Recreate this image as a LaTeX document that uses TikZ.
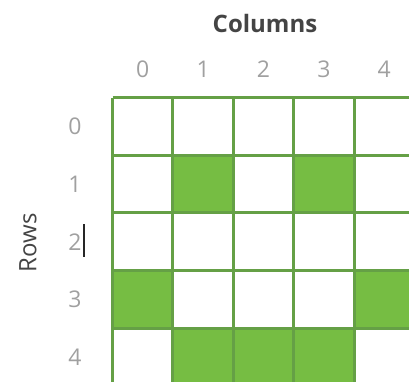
\documentclass[tikz,border=0pt]{standalone}
\usepackage{fontspec}
\setmainfont{Open Sans}
\definecolor{cellfill}{RGB}{118,189,67}
\definecolor{gridline}{RGB}{101,160,70}
\definecolor{numgray}{RGB}{160,160,160}
\definecolor{titlegray}{RGB}{68,68,68}
\begin{document}
\begin{tikzpicture}[x=1pt,y=-1pt,
  num/.style={text=numgray,font=\fontsize{23}{26}\selectfont,inner sep=0pt},
  title/.style={text=titlegray,font=\bfseries\fontsize{24}{28}\selectfont,inner sep=0pt},
  sidetitle/.style={text=titlegray,font=\fontsize{24}{28}\selectfont,inner sep=0pt,rotate=90},
  cell/.style={fill=cellfill},
  gline/.style={draw=gridline,line width=3pt}]
\useasboundingbox (0,0) rectangle (409,381);
\def\gx{112.5}\def\gy{97.5}\def\cw{60.4}\def\rh{57.7}
\begin{scope}
\clip (0,0) rectangle (409,381);
\foreach \c/\r in {1/1,3/1,0/3,4/3,1/4,2/4,3/4}
  \fill[cell] ({\gx+\cw*\c},{\gy+\rh*\r}) rectangle +(\cw,\rh);
\foreach \i in {0,...,5}
  \draw[gline] ({\gx+\cw*\i},{\gy}) -- ({\gx+\cw*\i},400);
\foreach \j in {0,...,5}
  \draw[gline] ({\gx},{\gy+\rh*\j}) -- (420,{\gy+\rh*\j});
\end{scope}
\node[title] (coltitle) at (265,23) {Columns};
\foreach \i in {0,...,4}
  \node[num] (col\i) at ({\gx+\cw*\i+\cw/2},69) {\i};
\foreach \j in {0,...,4}
  \node[num] (row\j) at (75,{\gy+\rh*\j+\rh/2}) {\j};
\node[sidetitle] (rowtitle) at (28,243) {Rows};
\draw[black!85,line width=2pt] (83.5,224) -- (83.5,257);
\end{tikzpicture}
\end{document}
